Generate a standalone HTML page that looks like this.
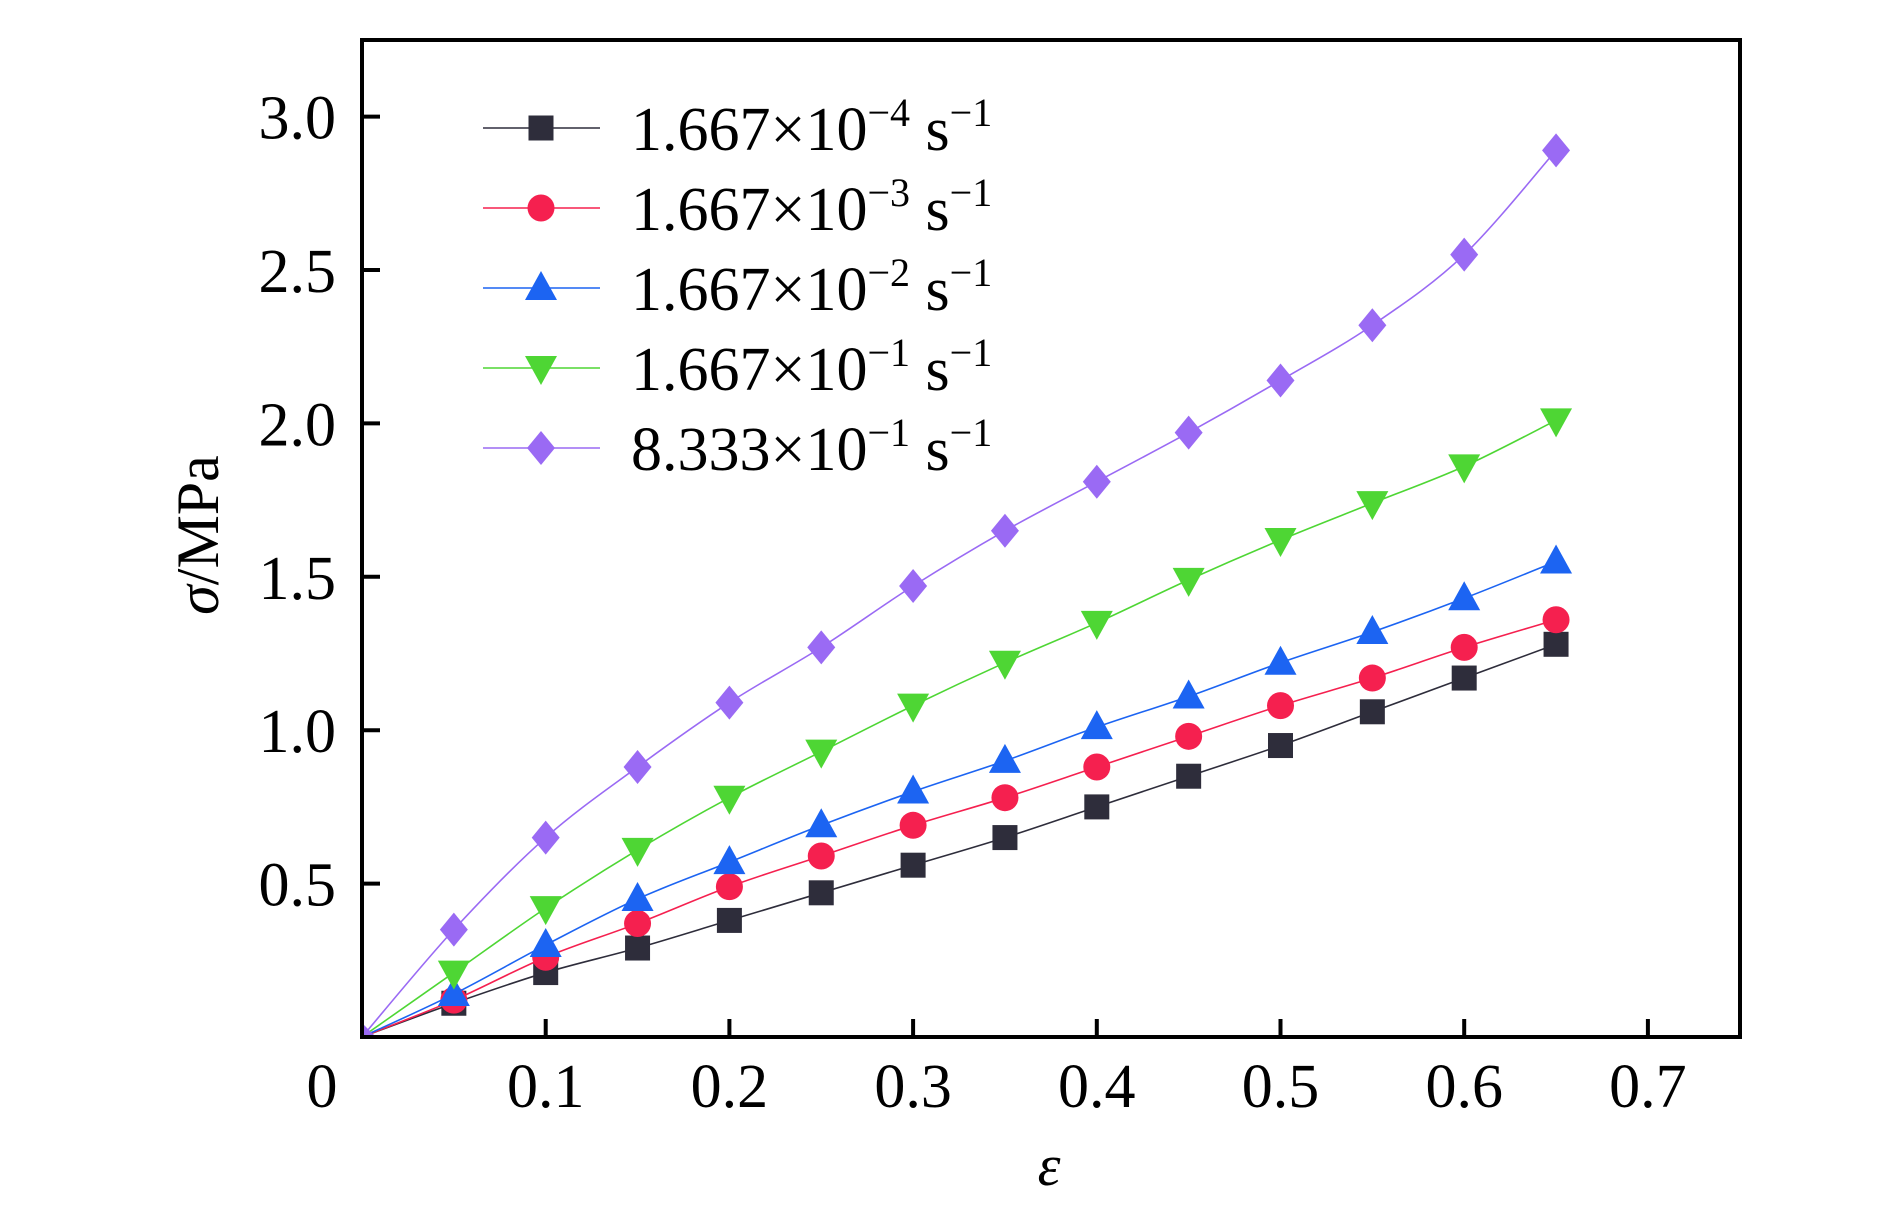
<!DOCTYPE html>
<html><head><meta charset="utf-8"><style>
body{margin:0;background:#fff;}
svg{display:block;font-family:"Liberation Serif","Times New Roman",serif;}
</style></head><body>
<svg id="chart" width="1890" height="1209" viewBox="0 0 1890 1209">
<g id="plot"></g>
<g id="axes"></g>
<g id="legend"></g>
<text x="1049" y="1185" font-size="58" font-style="italic" text-anchor="middle">ε</text>
<text transform="translate(218,535) rotate(-90)" font-size="60" text-anchor="middle"><tspan font-style="italic">σ</tspan>/MPa</text>
</svg>
<script>
const strain=[0,0.05,0.1,0.15,0.2,0.25,0.3,0.35,0.4,0.45,0.5,0.55,0.6,0.65];
const s1=[0,0.11,0.21,0.29,0.38,0.47,0.56,0.65,0.75,0.85,0.95,1.06,1.17,1.28];
const s2=[0,0.12,0.26,0.37,0.49,0.59,0.69,0.78,0.88,0.98,1.08,1.17,1.27,1.36];
const s3=[0,0.14,0.30,0.45,0.57,0.69,0.80,0.90,1.01,1.11,1.22,1.32,1.43,1.55];
const s4=[0,0.21,0.42,0.61,0.78,0.93,1.08,1.22,1.35,1.49,1.62,1.74,1.86,2.01];
const s5=[0,0.35,0.65,0.88,1.09,1.27,1.47,1.65,1.81,1.97,2.14,2.32,2.55,2.89];
const xTicks=[0.1,0.2,0.3,0.4,0.5,0.6,0.7];
const xTickLabels=["0.1","0.2","0.3","0.4","0.5","0.6","0.7"];
const yTicks=[0.5,1.0,1.5,2.0,2.5,3.0];
const yTickLabels=["0.5","1.0","1.5","2.0","2.5","3.0"];
const legendMant=["1.667","1.667","1.667","1.667","8.333"];
const legendExp=["−4","−3","−2","−1","−1"];

const NS="http://www.w3.org/2000/svg";
const L=362,R=1740,T=40,B=1037;
const X=v=>L+v*1837;
const Y=v=>B-v*306.8;
function mk(tag,attrs,parent){const e=document.createElementNS(NS,tag);for(const k in attrs)e.setAttribute(k,attrs[k]);parent.appendChild(e);return e;}
const plot=document.getElementById('plot'),axes=document.getElementById('axes'),legend=document.getElementById('legend');

const series=[
 {d:s1,c:"#2e2d3b",m:"square",n:"series-1e-4"},
 {d:s2,c:"#f5204f",m:"circle",n:"series-1e-3"},
 {d:s3,c:"#1c64f2",m:"up",n:"series-1e-2"},
 {d:s4,c:"#4ed634",m:"down",n:"series-1e-1"},
 {d:s5,c:"#9a6af4",m:"diamond",n:"series-8e-1"}];

function marker(type,x,y,c,parent){
 let e;
 if(type==="square")e=mk('rect',{x:x-12.5,y:y-12.5,width:25,height:25,fill:c},parent);
 else if(type==="circle")e=mk('circle',{cx:x,cy:y,r:13.5,fill:c},parent);
 else if(type==="up")e=mk('polygon',{points:`${x},${y-17} ${x-16},${y+12} ${x+16},${y+12}`,fill:c},parent);
 else if(type==="down")e=mk('polygon',{points:`${x},${y+17} ${x-16},${y-12} ${x+16},${y-12}`,fill:c},parent);
 else e=mk('polygon',{points:`${x},${y-17} ${x+14},${y} ${x},${y+17} ${x-14},${y}`,fill:c},parent);
 return e;
}
function spline(pts){
 let d=`M${pts[0][0]},${pts[0][1]}`;
 for(let i=0;i<pts.length-1;i++){
  const p0=pts[Math.max(0,i-1)],p1=pts[i],p2=pts[i+1],p3=pts[Math.min(pts.length-1,i+2)];
  const c1=[p1[0]+(p2[0]-p0[0])/6,p1[1]+(p2[1]-p0[1])/6];
  const c2=[p2[0]-(p3[0]-p1[0])/6,p2[1]-(p3[1]-p1[1])/6];
  d+=` C${c1[0]},${c1[1]} ${c2[0]},${c2[1]} ${p2[0]},${p2[1]}`;
 }
 return d;
}
series.forEach(s=>{
 const g=mk('g',{},plot);
 
 
 const pts=strain.map((v,i)=>[X(v),Y(s.d[i])]);
 const p=mk('path',{d:spline(pts),fill:"none",stroke:s.c,"stroke-width":1.6},g);
 
 
 pts.forEach((pt,i)=>{
  if(i===0) return;
  const m=marker(s.m,pt[0],pt[1],s.c,g);
  
  
 });
});
const origin=mk('polygon',{points:`${L},${B-14} ${L+14},${B} ${L},${B}`,fill:"#9a6af4"},plot);



const fr=mk('rect',{x:L,y:T,width:R-L,height:B-T,fill:"none",stroke:"#000","stroke-width":4},axes);


xTicks.forEach((v,i)=>{
 const t=mk('line',{x1:X(v),x2:X(v),y1:B,y2:B-18,stroke:"#000","stroke-width":4},axes);
 
 
 const tx=mk('text',{x:X(v),y:1107,"font-size":62,"text-anchor":"middle"},axes);
 tx.textContent=xTickLabels[i];
 
 
});
const z=mk('text',{x:322,y:1107,"font-size":62,"text-anchor":"middle"},axes);
z.textContent="0";


yTicks.forEach((v,i)=>{
 const t=mk('line',{x1:L,x2:L+18,y1:Y(v),y2:Y(v),stroke:"#000","stroke-width":4},axes);
 
 
 const tx=mk('text',{x:336,y:Y(v)+22,"font-size":62,"text-anchor":"end"},axes);
 tx.textContent=yTickLabels[i];
 
 
});
series.forEach((s,i)=>{
 const y=128+i*80;
 const g=mk('g',{},legend);
 
 
 mk('line',{x1:483,x2:600,y1:y,y2:y,stroke:s.c,"stroke-width":1.6},g);
 marker(s.m,541,y,s.c,g);
 const t=mk('text',{x:631,y:y+22,"font-size":62},g);
 const a=mk('tspan',{},t);a.textContent=legendMant[i]+"×10";
 const b=mk('tspan',{dy:-24,"font-size":40},t);b.textContent=legendExp[i];
 const c=mk('tspan',{dy:24,"font-size":62},t);c.textContent=" s";
 const d=mk('tspan',{dy:-24,"font-size":40},t);d.textContent="−1";
});
</script>
</body></html>
